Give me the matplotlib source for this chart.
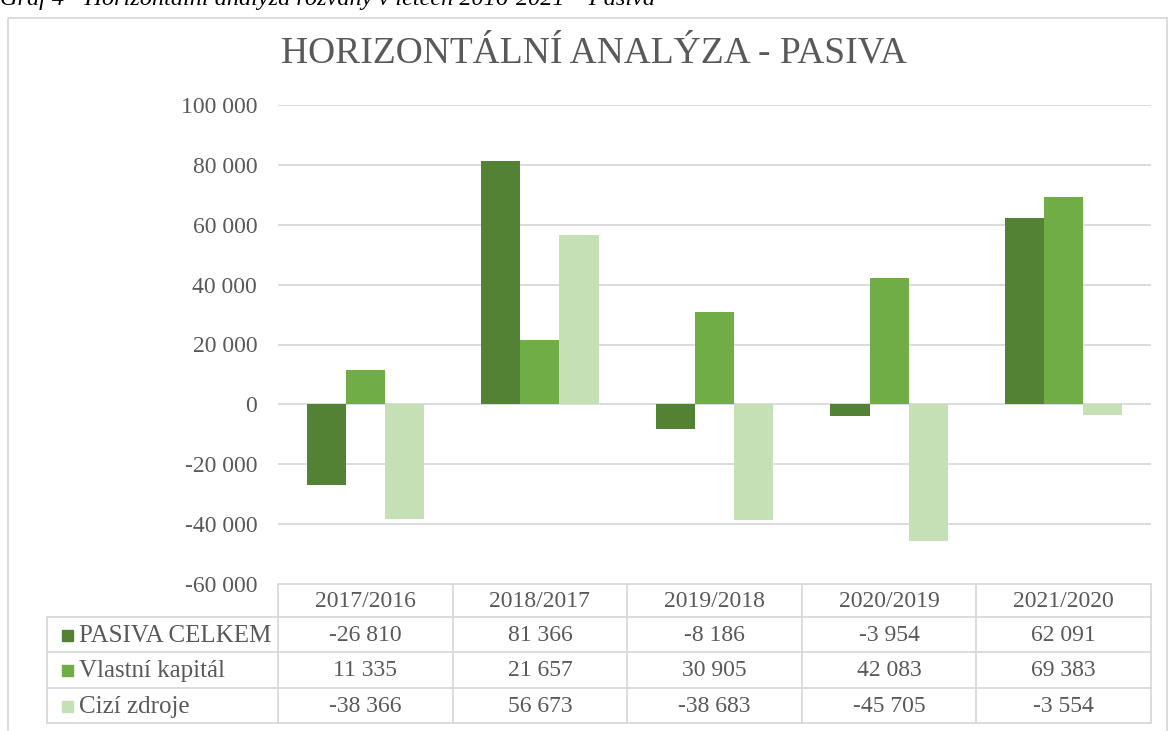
import numpy as np
import matplotlib.pyplot as plt
from matplotlib.lines import Line2D
from matplotlib.patches import Rectangle

plt.rcParams['font.family'] = ['Liberation Serif', 'DejaVu Serif']

# Data
periods = ['2017/2016', '2018/2017', '2019/2018', '2020/2019', '2021/2020']
series_names = ['PASIVA CELKEM', 'Vlastní kapitál', 'Cizí zdroje']
pasiva_celkem = [-26810, 81366, -8186, -3954, 62091]
vlastni_kapital = [11335, 21657, 30905, 42083, 69383]
cizi_zdroje = [-38366, 56673, -38683, -45705, -3554]
yticks = [-60000, -40000, -20000, 0, 20000, 40000, 60000, 80000, 100000]

colors = ['#548235', '#70AD47', '#C5E0B4']
text_color = '#595959'
grid_color = '#D9D9D9'

W, H = 1170, 731
fig = plt.figure(figsize=(W / 100, H / 100), dpi=100)


def fmt(v):
    return f'{v:,}'.replace(',', ' ')


# plot area in pixels
px_left, px_right = 278, 1151
px_top, px_bottom = 105, 584
ax = fig.add_axes([px_left / W, 1 - px_bottom / H,
                   (px_right - px_left) / W, (px_bottom - px_top) / H])

x = np.arange(len(periods))
width = 0.224
all_series = [pasiva_celkem, vlastni_kapital, cizi_zdroje]
for i, (vals, c) in enumerate(zip(all_series, colors)):
    ax.bar(x + (i - 1) * width, vals, width, color=c, zorder=3)

ax.set_xlim(-0.5, len(periods) - 0.5)
ax.set_ylim(-60000, 100000)
ax.set_yticks(yticks)
ax.set_yticklabels([fmt(t) for t in yticks], color=text_color, fontsize=17)
ax.tick_params(axis='y', length=0, pad=15)
ax.set_xticks([])
ax.grid(axis='y', color=grid_color, linewidth=1.3, zorder=0)
for s in ax.spines.values():
    s.set_visible(False)

# overlay in pixel coordinates for frame, titles and data table
ov = fig.add_axes([0, 0, 1, 1], zorder=-1)
ov.set_xlim(0, W)
ov.set_ylim(H, 0)
ov.axis('off')

ov.add_patch(Rectangle((8, 18), 1159, 740, fill=False, edgecolor=grid_color, linewidth=1.3))

fig.text(0.0, 1 - 5 / H, 'Graf 4 - Horizontální analýza rozvahy v letech 2016-2021 – Pasiva',
         fontsize=17.5, style='italic', color='black', ha='left', va='baseline')
fig.text(594 / W, 1 - 53 / H, 'HORIZONTÁLNÍ ANALÝZA - PASIVA',
         fontsize=27, color=text_color, ha='center', va='center')

# data table
tab_left = 47
row_lines = [584, 617, 652, 688, 723]
col_w = (px_right - px_left) / len(periods)
col_lines = [px_left + k * col_w for k in range(len(periods) + 1)]

ov.add_line(Line2D([px_left, px_right], [row_lines[0]] * 2, color=grid_color, lw=1.3))
for yl in row_lines[1:]:
    ov.add_line(Line2D([tab_left, px_right], [yl] * 2, color=grid_color, lw=1.3))
for xl in col_lines:
    ov.add_line(Line2D([xl, xl], [row_lines[0], row_lines[-1]], color=grid_color, lw=1.3))
ov.add_line(Line2D([tab_left, tab_left], [row_lines[1], row_lines[-1]], color=grid_color, lw=1.3))

for j, p in enumerate(periods):
    ov.text(col_lines[j] + col_w / 2, (row_lines[0] + row_lines[1]) / 2 + 1, p,
            ha='center', va='center', fontsize=17, color=text_color)

for i, (name, vals, c) in enumerate(zip(series_names, all_series, colors)):
    yc = (row_lines[i + 1] + row_lines[i + 2]) / 2
    ov.add_patch(Rectangle((62, yc - 5), 11, 11, color=c))
    ov.text(79, yc + 1, name, ha='left', va='center', fontsize=18, color=text_color)
    for j, v in enumerate(vals):
        ov.text(col_lines[j] + col_w / 2, yc + 1, fmt(v),
                ha='center', va='center', fontsize=17, color=text_color)

fig.savefig('out.png', dpi=100)
